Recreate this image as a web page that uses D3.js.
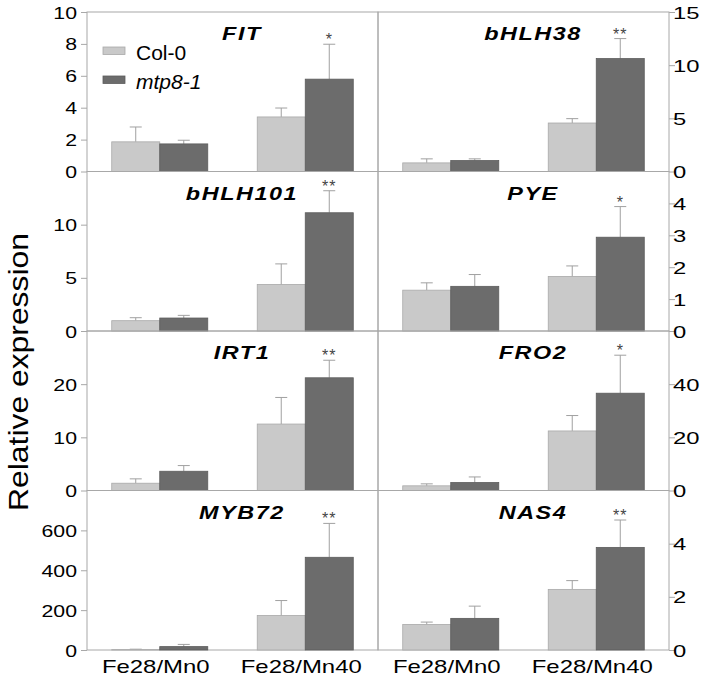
<!DOCTYPE html>
<html>
<head>
<meta charset="utf-8">
<script src="https://cdn.jsdelivr.net/npm/d3@7"></script>
<style>
  html, body { margin: 0; padding: 0; background: #fff; }
  svg { display: block; font-family: "Liberation Sans", Arial, sans-serif; }
</style>
</head>
<body>
<svg id="chart" width="709" height="676"></svg>
<script>
// ---------------- data ----------------
const genes = ["FIT", "bHLH38", "bHLH101", "PYE", "IRT1", "FRO2", "MYB72", "NAS4"];
const conditions = ["Fe28/Mn0", "Fe28/Mn40"];
const genotypes = ["Col-0", "mtp8-1"];
// means per gene: [Fe28/Mn0, Fe28/Mn40]
const col0Values = [[1.86, 3.42], [0.81, 4.56], [0.97, 4.37], [1.28, 1.71], [1.37, 12.5], [1.76, 22.4], [2, 173], [0.96, 2.28]];
const col0Errors = [[0.93, 0.56], [0.38, 0.41], [0.28, 1.94], [0.23, 0.33], [0.82, 5.0], [0.74, 5.8], [2, 75], [0.09, 0.33]];
const mtp8Values = [[1.73, 5.79], [1.03, 10.62], [1.22, 11.12], [1.40, 2.94], [3.62, 21.2], [3.0, 36.6], [17, 465], [1.19, 3.86]];
const mtp8Errors = [[0.23, 2.19], [0.16, 1.88], [0.25, 2.07], [0.37, 0.96], [1.07, 3.3], [2.1, 14.3], [11, 170], [0.46, 1.03]];
const significance = ["*", "**", "**", "*", "**", "*", "**", "**"];
const yMax = [10, 15, 15, 5, 30, 60, 800, 6];
const yTicks = [[0, 2, 4, 6, 8, 10], [0, 5, 10, 15], [0, 5, 10], [0, 1, 2, 3, 4], [0, 10, 20], [0, 20, 40], [0, 200, 400, 600], [0, 2, 4]];
const yAxisTitle = "Relative expression";

// ---------------- layout ----------------
const svg = d3.select("#chart");
const X0 = 87, XM = 378, X1 = 669;
const TOP = 12, BOTTOM = 650;
const rowH = (BOTTOM - TOP) / 4;
const colors = { "Col-0": "#c9c9c9", "mtp8-1": "#6c6c6c" };
const strokes = { "Col-0": "#a9a9a9", "mtp8-1": "#5c5c5c" };
const frameColor = "#a8a8a8";
const errColor = "#a0a0a0";

function stretchedText(g, x, y, txt, opts) {
  const t = g.append("text")
    .attr("transform", `translate(${x},${y}) scale(${opts.sx || 1},1)`)
    .attr("text-anchor", opts.anchor || "start")
    .attr("font-size", opts.size)
    .attr("fill", opts.fill || "#000")
    .text(txt);
  if (opts.weight) t.attr("font-weight", opts.weight);
  if (opts.style) t.attr("font-style", opts.style);
  if (opts.ls) t.attr("letter-spacing", opts.ls);
  return t;
}

genes.forEach((gene, i) => {
  const col = i % 2, row = Math.floor(i / 2);
  const px0 = col === 0 ? X0 : XM;
  const px1 = col === 0 ? XM : X1;
  const py0 = TOP + row * rowH;
  const py1 = py0 + rowH;

  const x = d3.scaleBand().domain(conditions).range([px0, px1]).paddingInner(0.34).paddingOuter(0.17);
  const xs = d3.scaleBand().domain(genotypes).range([0, x.bandwidth()]);
  const y = d3.scaleLinear().domain([0, yMax[i]]).range([py1, py0]);

  const g = svg.append("g");

  // frame
  g.append("rect")
    .attr("x", px0).attr("y", py0)
    .attr("width", px1 - px0).attr("height", py1 - py0)
    .attr("fill", "none").attr("stroke", frameColor).attr("stroke-width", 1);

  // axis
  const axis = (col === 0 ? d3.axisLeft(y) : d3.axisRight(y))
    .tickValues(yTicks[i]).tickSize(6).tickSizeOuter(0).tickFormat(d3.format("d"));
  const ag = g.append("g")
    .attr("transform", `translate(${col === 0 ? X0 : X1},0)`)
    .call(axis);
  ag.select(".domain").remove();
  ag.selectAll(".tick line").attr("stroke", frameColor);
  ag.selectAll(".tick text").remove();
  yTicks[i].forEach(v => {
    if (col === 0) {
      stretchedText(g, X0 - 10, y(v) + 6.5, String(v), { size: 17, sx: 1.25, anchor: "end" });
    } else {
      stretchedText(g, X1 + 4, y(v) + 6.5, String(v), { size: 17, sx: 1.4, anchor: "start" });
    }
  });

  // bars
  const data = [];
  conditions.forEach((c, k) => {
    data.push({ cond: c, geno: "Col-0", v: col0Values[i][k], e: col0Errors[i][k] });
    data.push({ cond: c, geno: "mtp8-1", v: mtp8Values[i][k], e: mtp8Errors[i][k] });
  });

  // error bars (behind bars)
  const eg = g.append("g").attr("stroke", errColor).attr("stroke-width", 1);
  data.forEach(d => {
    const cx = x(d.cond) + xs(d.geno) + xs.bandwidth() / 2;
    eg.append("line").attr("x1", cx).attr("x2", cx).attr("y1", y(d.v)).attr("y2", y(d.v + d.e));
    eg.append("line").attr("x1", cx - 6).attr("x2", cx + 6).attr("y1", y(d.v + d.e)).attr("y2", y(d.v + d.e));
  });

  g.append("g").selectAll("rect").data(data).join("rect")
    .attr("x", d => x(d.cond) + xs(d.geno))
    .attr("y", d => y(d.v))
    .attr("width", xs.bandwidth())
    .attr("height", d => y(0) - y(d.v))
    .attr("fill", d => colors[d.geno])
    .attr("stroke", d => strokes[d.geno])
    .attr("stroke-width", 0.8);

  // significance
  const dm = data[3];
  const sx = x(dm.cond) + xs(dm.geno) + xs.bandwidth() / 2;
  g.append("text")
    .attr("x", sx).attr("y", y(dm.v + dm.e) + 1)
    .attr("text-anchor", "middle")
    .attr("font-size", 16)
    .attr("letter-spacing", 1)
    .attr("fill", "#444")
    .text(significance[i]);

  // gene label
  const lx = px0 + 155;
  stretchedText(g, lx, py0 + 28, gene, { size: 18, sx: 1.3, anchor: "middle", weight: "bold", style: "italic", ls: 1.2 });

  // x labels on bottom row
  if (row === 3) {
    conditions.forEach(c => {
      stretchedText(svg, x(c) + x.bandwidth() / 2 - 4, 673, c, { size: 18, sx: 1.33, anchor: "middle" });
    });
  }
});

// legend
const legend = svg.append("g");
genotypes.forEach((gt, k) => {
  const ly = 47 + k * 29;
  legend.append("rect").attr("x", 103).attr("y", ly).attr("width", 22).attr("height", 7.5)
    .attr("fill", colors[gt]).attr("stroke", strokes[gt]).attr("stroke-width", 0.8);
  const t = legend.append("text").attr("x", 136).attr("y", ly + 12.5)
    .attr("font-size", 21).attr("fill", "#000").text(gt);
  if (k === 1) t.attr("font-style", "italic");
});

// y axis title
svg.append("text")
  .attr("transform", "translate(28,372) rotate(-90) scale(1.18,1)")
  .attr("text-anchor", "middle")
  .attr("font-size", 27)
  .attr("fill", "#000")
  .text(yAxisTitle);
</script>
</body>
</html>
